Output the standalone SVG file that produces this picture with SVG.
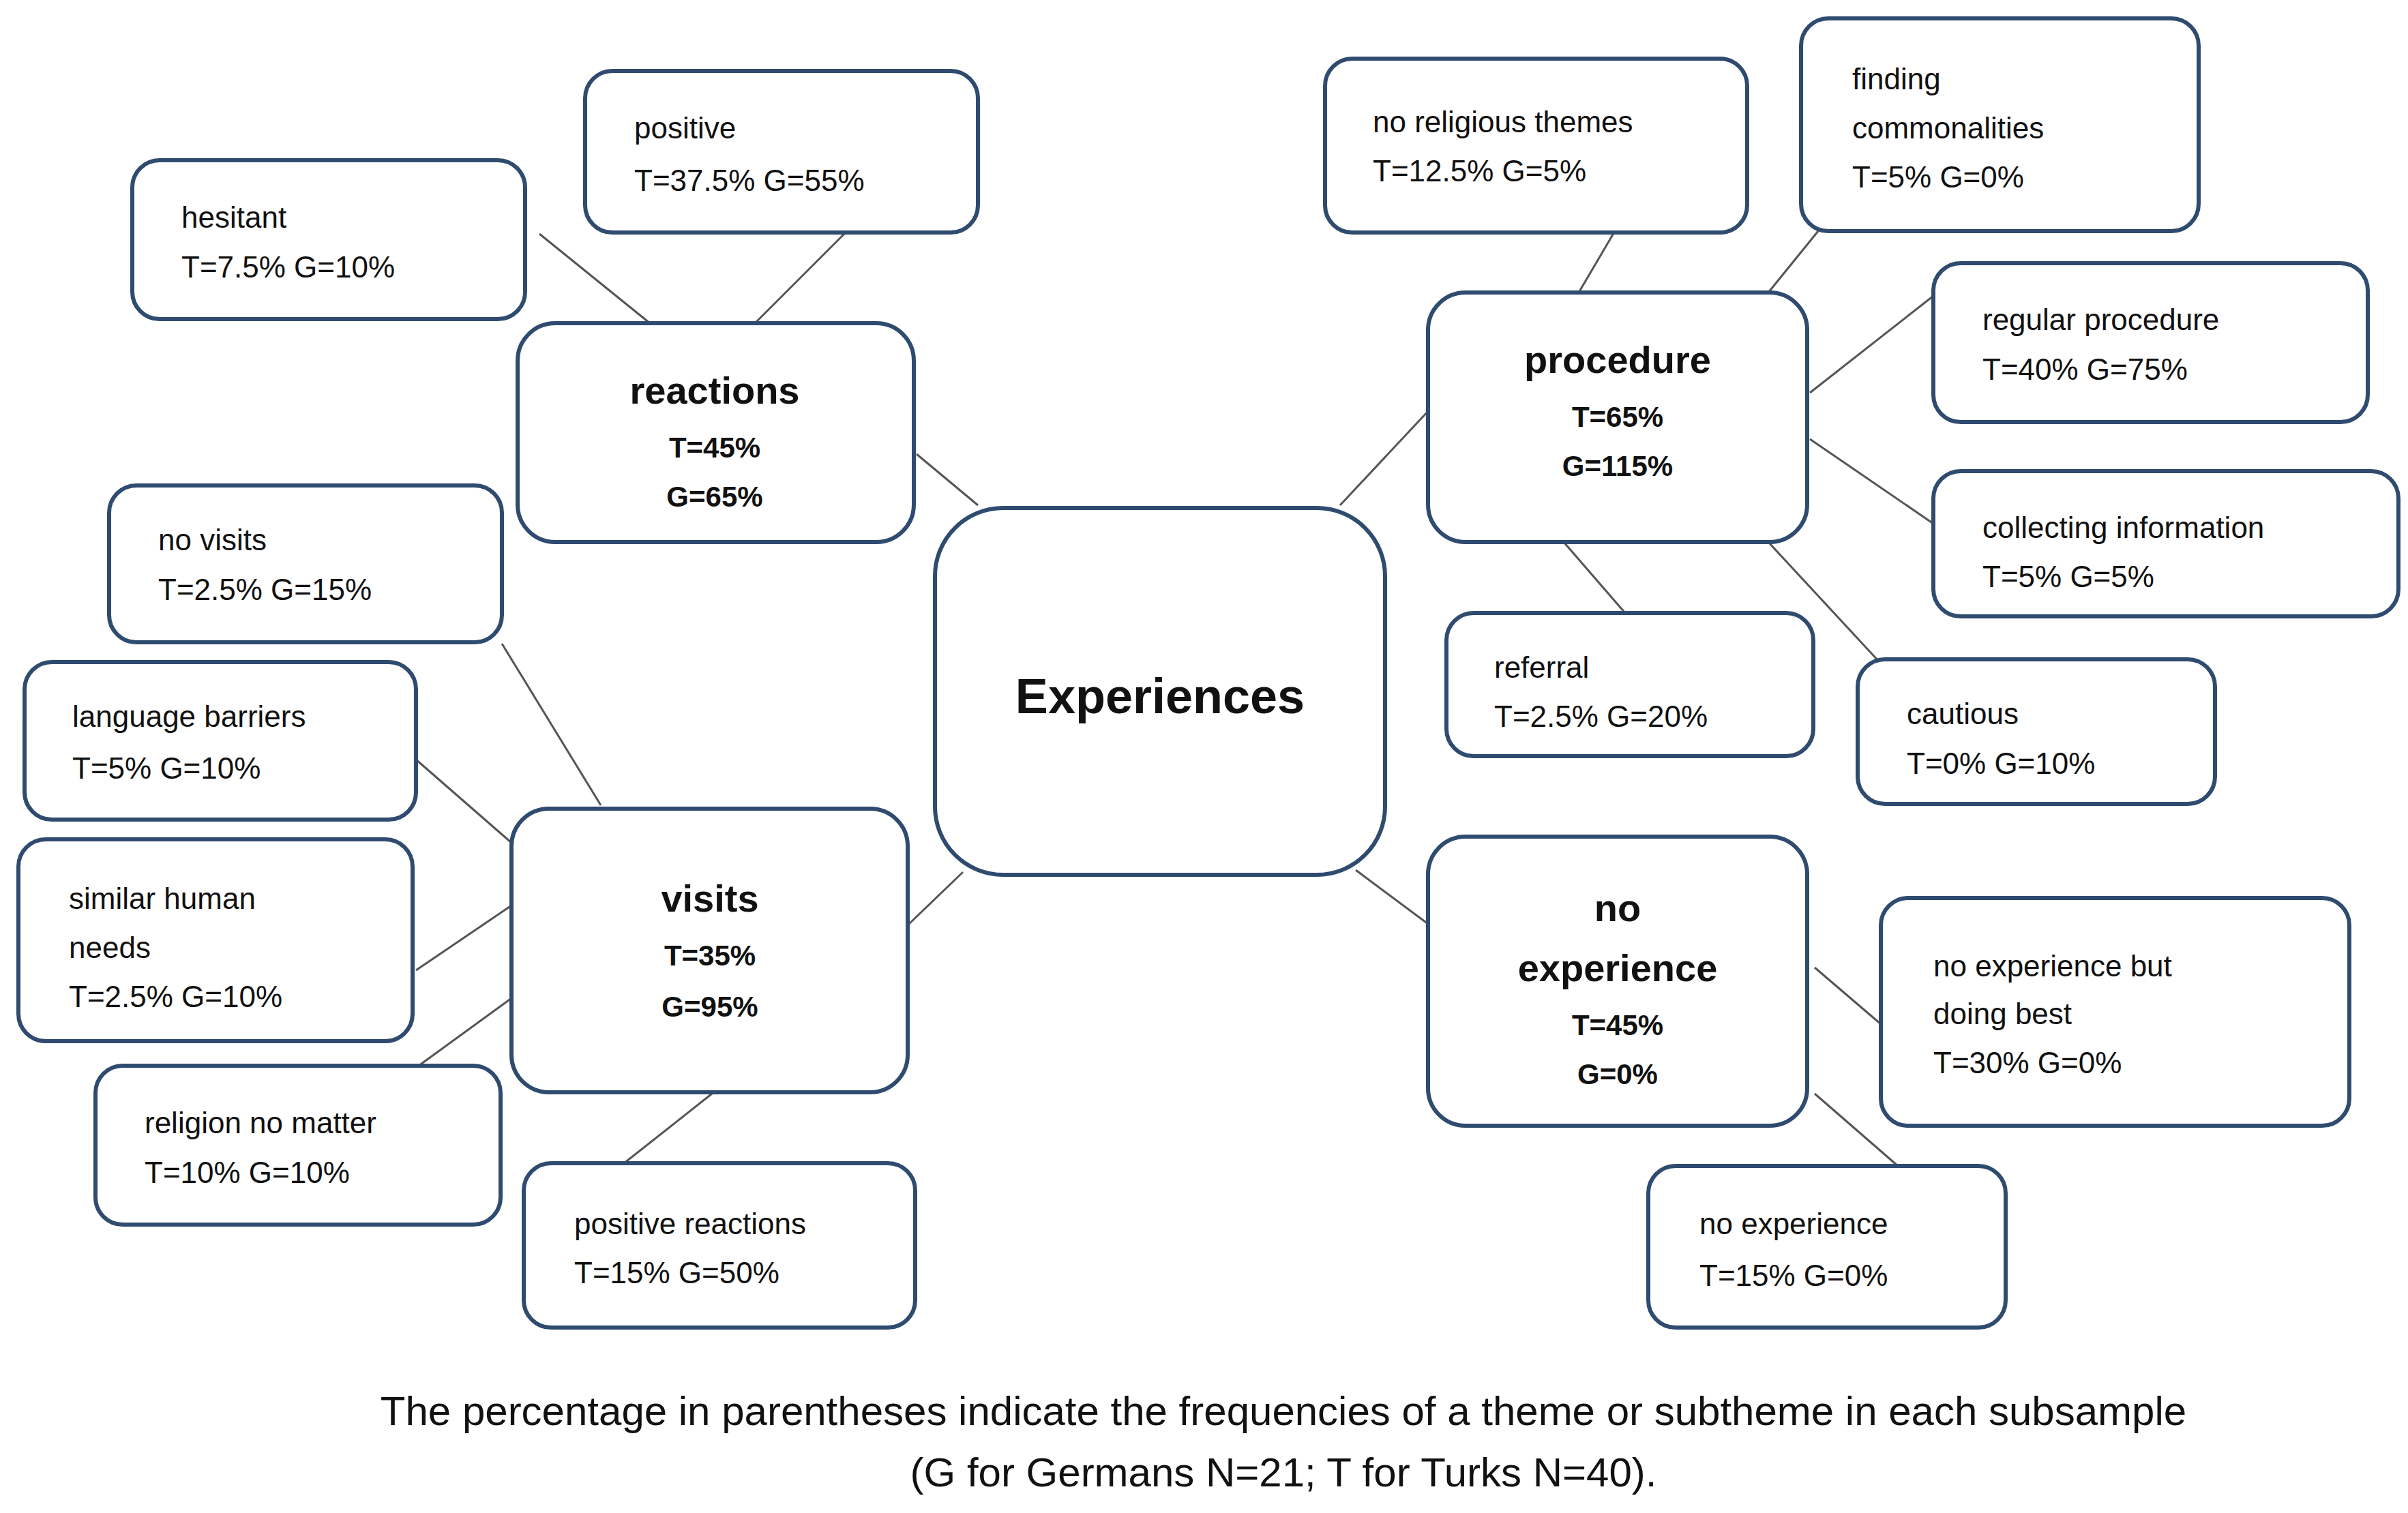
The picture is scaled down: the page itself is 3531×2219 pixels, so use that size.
<svg xmlns="http://www.w3.org/2000/svg" width="3531" height="2219" viewBox="0 0 3531 2219" xml:space="preserve">
<style>
.b{fill:#fff;stroke:#2f4b6f;stroke-width:6}
.c line{stroke:#555;stroke-width:3}
text{font-family:"Liberation Sans",Arial,sans-serif;fill:#111}
.l{font-size:44px}
.h{font-size:56px;font-weight:bold;text-anchor:middle}
.v{font-size:42px;font-weight:bold;text-anchor:middle}
.cap{font-size:60px;text-anchor:middle}
</style>
<rect width="3531" height="2219" fill="#fff"/>
<g class="c" id="connectors">
<line x1="791" y1="343" x2="953" y2="474"/>
<line x1="1238" y1="343" x2="1107" y2="474"/>
<line x1="1344" y1="666" x2="1434" y2="741"/>
<line x1="736" y1="944" x2="881" y2="1181"/>
<line x1="610" y1="1114" x2="750" y2="1236"/>
<line x1="610" y1="1423" x2="750" y2="1328"/>
<line x1="614" y1="1563" x2="750" y2="1464"/>
<line x1="915" y1="1706" x2="1044" y2="1604"/>
<line x1="1333" y1="1355" x2="1412" y2="1279"/>
<line x1="1965" y1="741" x2="2096" y2="601"/>
<line x1="2315" y1="429" x2="2388" y2="305"/>
<line x1="2593" y1="429" x2="2666" y2="339"/>
<line x1="2654" y1="576" x2="2835" y2="434"/>
<line x1="2654" y1="644" x2="2835" y2="768"/>
<line x1="2293" y1="795" x2="2383" y2="899"/>
<line x1="2593" y1="795" x2="2756" y2="971"/>
<line x1="1988" y1="1276" x2="2094" y2="1355"/>
<line x1="2661" y1="1419" x2="2758" y2="1502"/>
<line x1="2661" y1="1604" x2="2783" y2="1710"/>
</g>
<g id="experiences"><rect class="b" x="1371" y="745" width="660" height="538" rx="100"/><text class="h" x="1701" y="1046" style="font-size:72px">Experiences</text></g>
<g id="reactions"><rect class="b" x="759" y="474" width="581" height="321" rx="55"/><text class="h" x="1048" y="592">reactions</text><text class="v" x="1048" y="671">T=45%</text><text class="v" x="1048" y="743">G=65%</text></g>
<g id="positive"><rect class="b" x="858" y="104" width="576" height="237" rx="40"/><text class="l" x="930" y="203">positive</text><text class="l" x="930" y="280">T=37.5%   G=55%</text></g>
<g id="hesitant"><rect class="b" x="194" y="235" width="576" height="233" rx="40"/><text class="l" x="266" y="334">hesitant</text><text class="l" x="266" y="407">T=7.5%   G=10%</text></g>
<g id="novisits"><rect class="b" x="160" y="712" width="576" height="230" rx="40"/><text class="l" x="232" y="807">no visits</text><text class="l" x="232" y="880">T=2.5%   G=15%</text></g>
<g id="visits"><rect class="b" x="750" y="1186" width="581" height="416" rx="55"/><text class="h" x="1041" y="1337">visits</text><text class="v" x="1041" y="1416">T=35%</text><text class="v" x="1041" y="1491">G=95%</text></g>
<g id="language"><rect class="b" x="36" y="971" width="574" height="231" rx="40"/><text class="l" x="106" y="1066">language barriers</text><text class="l" x="106" y="1142">T=5%   G=10%</text></g>
<g id="similar"><rect class="b" x="27" y="1231" width="578" height="296" rx="40"/><text class="l" x="101" y="1333">similar human</text><text class="l" x="101" y="1405">needs</text><text class="l" x="101" y="1477">T=2.5%   G=10%</text></g>
<g id="religion"><rect class="b" x="140" y="1563" width="594" height="233" rx="40"/><text class="l" x="212" y="1662">religion no matter</text><text class="l" x="212" y="1735">T=10%   G=10%</text></g>
<g id="posreact"><rect class="b" x="768" y="1706" width="574" height="241" rx="40"/><text class="l" x="842" y="1810">positive reactions</text><text class="l" x="842" y="1882">T=15%   G=50%</text></g>
<g id="procedure"><rect class="b" x="2094" y="429" width="556" height="366" rx="55"/><text class="h" x="2372" y="547">procedure</text><text class="v" x="2372" y="626">T=65%</text><text class="v" x="2372" y="698">G=115%</text></g>
<g id="noreligious"><rect class="b" x="1943" y="86" width="619" height="255" rx="40"/><text class="l" x="2013" y="194">no religious themes</text><text class="l" x="2013" y="266">T=12.5%  G=5%</text></g>
<g id="finding"><rect class="b" x="2641" y="27" width="583" height="312" rx="40"/><text class="l" x="2716" y="131">finding</text><text class="l" x="2716" y="203">commonalities</text><text class="l" x="2716" y="275">T=5%   G=0%</text></g>
<g id="regular"><rect class="b" x="2835" y="386" width="637" height="233" rx="40"/><text class="l" x="2907" y="484">regular procedure</text><text class="l" x="2907" y="557">T=40%   G=75%</text></g>
<g id="collecting"><rect class="b" x="2835" y="691" width="682" height="213" rx="40"/><text class="l" x="2907" y="789">collecting information</text><text class="l" x="2907" y="861">T=5%   G=5%</text></g>
<g id="referral"><rect class="b" x="2121" y="899" width="538" height="210" rx="40"/><text class="l" x="2191" y="994">referral</text><text class="l" x="2191" y="1066">T=2.5%   G=20%</text></g>
<g id="cautious"><rect class="b" x="2724" y="967" width="524" height="212" rx="40"/><text class="l" x="2796" y="1062">cautious</text><text class="l" x="2796" y="1135">T=0%   G=10%</text></g>
<g id="noexperience"><rect class="b" x="2094" y="1227" width="556" height="424" rx="55"/><text class="h" x="2372" y="1351">no</text><text class="h" x="2372" y="1439">experience</text><text class="v" x="2372" y="1518">T=45%</text><text class="v" x="2372" y="1590">G=0%</text></g>
<g id="butdoing"><rect class="b" x="2758" y="1317" width="687" height="334" rx="40"/><text class="l" x="2835" y="1432">no experience but</text><text class="l" x="2835" y="1502">doing best</text><text class="l" x="2835" y="1574">T=30%   G=0%</text></g>
<g id="noexpsmall"><rect class="b" x="2417" y="1710" width="524" height="237" rx="40"/><text class="l" x="2492" y="1810">no experience</text><text class="l" x="2492" y="1886">T=15%   G=0%</text></g>
<text class="cap" x="1882" y="2090">The percentage in parentheses indicate the frequencies of a theme or subtheme in each subsample</text>
<text class="cap" x="1882" y="2180">(G for Germans N=21; T for Turks N=40).</text>
</svg>
